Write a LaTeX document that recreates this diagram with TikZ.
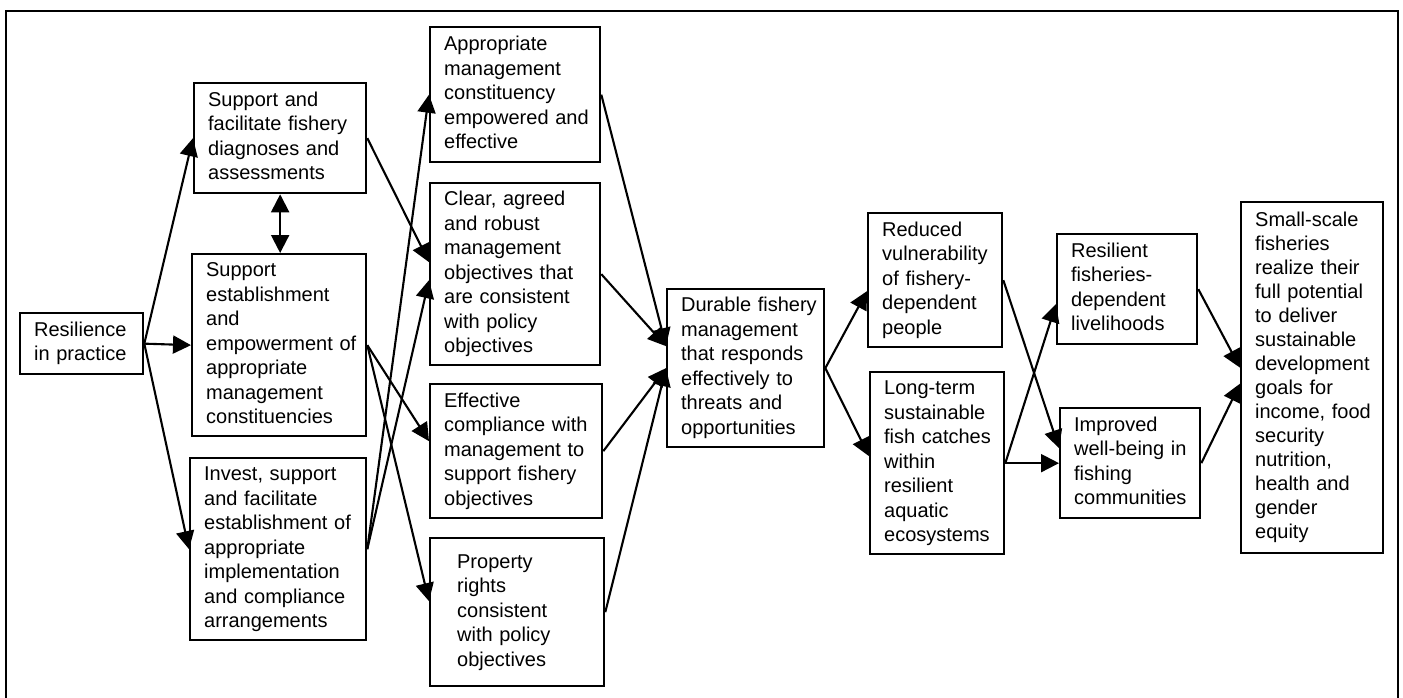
\documentclass[tikz,border=0pt]{standalone}
\usepackage{fontspec}
\setmainfont{Liberation Sans}
\usetikzlibrary{arrows.meta}
\tikzset{
  x=1pt, y=-1pt,
  box/.style={draw, line width=2.3pt, inner xsep=14pt, inner ysep=0pt, align=left,
    anchor=north west, font=\fontsize{20}{24.5}\selectfont},
  tip/.tip={Triangle[length=18pt,width=18pt]},
  conn/.style={line width=2.1pt, -tip},
  frame/.style={line width=1.4pt}
}
\newcommand{\bx}[7]{% name, left, top, right, bottom, xsep, text
  \node[box, inner xsep=#6pt, text width={#4-#2-2*#6}, minimum height={#5-#3}] (#1) at (#2,#3)
    {\begin{tabular}{@{}l@{}}#7\end{tabular}};}
\begin{document}
\begin{tikzpicture}
\useasboundingbox (0,0) rectangle (1403,697);
\draw[frame] (6,700) -- (6,11) -- (1398,11) -- (1398,700);
\bx{res}{19}{312}{142}{373}{14}{Resilience\\in practice}
\bx{sf}{193}{82}{365}{192}{14}{Support and\\facilitate fishery\\diagnoses and\\assessments}
\bx{se}{191}{253}{365}{435}{14}{Support\\establishment\\and\\empowerment of\\appropriate\\management\\constituencies}
\bx{inv}{189}{457}{365}{639}{14}{Invest, support\\and facilitate\\establishment of\\appropriate\\implementation\\and compliance\\arrangements}
\bx{app}{429}{26}{599}{161}{14}{Appropriate\\management\\constituency\\empowered and\\effective}
\bx{clr}{429}{182}{599}{364}{14}{Clear, agreed\\and robust\\management\\objectives that\\are consistent\\with policy\\objectives}
\bx{eff}{429}{383}{601}{517}{14}{Effective\\compliance with\\management to\\support fishery\\objectives}
\bx{prop}{429}{537}{603}{685}{27}{Property\\rights\\consistent\\with policy\\objectives}
\bx{dur}{666}{288}{823}{446}{14}{Durable fishery\\management\\that responds\\effectively to\\threats and\\opportunities}
\bx{red}{867}{212}{1001}{346}{14}{Reduced\\vulnerability\\of fishery-\\dependent\\people}
\bx{lt}{869}{371}{1003}{553}{14}{Long-term\\sustainable\\fish catches\\within\\resilient\\aquatic\\ecosystems}
\bx{rf}{1056}{233}{1196}{343}{14}{Resilient\\fisheries-\\dependent\\livelihoods}
\bx{imp}{1059}{407}{1199}{517}{14}{Improved\\well-being in\\fishing\\communities}
\node[box, inner xsep=14pt, text width=114pt, minimum height=351pt, font=\fontsize{20}{24}\selectfont] (ss) at (1240,201)
  {\begin{tabular}{@{}l@{}}Small-scale\\fisheries\\realize their\\full potential\\to deliver\\sustainable\\development\\goals for\\income, food\\security\\nutrition,\\health and\\gender\\equity\end{tabular}};
% connectors
\draw[conn] (res.east) -- (sf.west);
\draw[conn] (res.east) -- (se.west);
\draw[conn] (res.east) -- (inv.west);
\draw[conn, tip-tip] (sf.south) -- (sf.south |- se.north);
\draw[conn] (sf.east) -- ([yshift=12pt]clr.west);
\draw[conn] (inv.east) -- (app.west);
\draw[conn] (inv.east) -- ([yshift=-6pt]clr.west);
\draw[conn] (se.east) -- ([yshift=10pt]eff.west);
\draw[conn] (se.east) -- ([yshift=11pt]prop.west);
\draw[conn] (app.east) -- ([yshift=22pt]dur.west);
\draw[conn] (clr.east) -- ([yshift=22pt]dur.west);
\draw[conn] (eff.east) -- (dur.west);
\draw[conn] (prop.east) -- (dur.west);
\draw[conn] (dur.east) -- ([yshift=-11pt]red.west);
\draw[conn] (dur.east) -- ([yshift=7pt]lt.west);
\draw[conn] (lt.east) -- (imp.west);
\draw[conn] (lt.east) -- ([yshift=-15pt]rf.west);
\draw[conn] (red.east) -- ([yshift=15pt]imp.west);
\draw[conn] (rf.east) -- ([yshift=10pt]ss.west);
\draw[conn] (imp.east) -- ([yshift=-6pt]ss.west);
\end{tikzpicture}
\end{document}
